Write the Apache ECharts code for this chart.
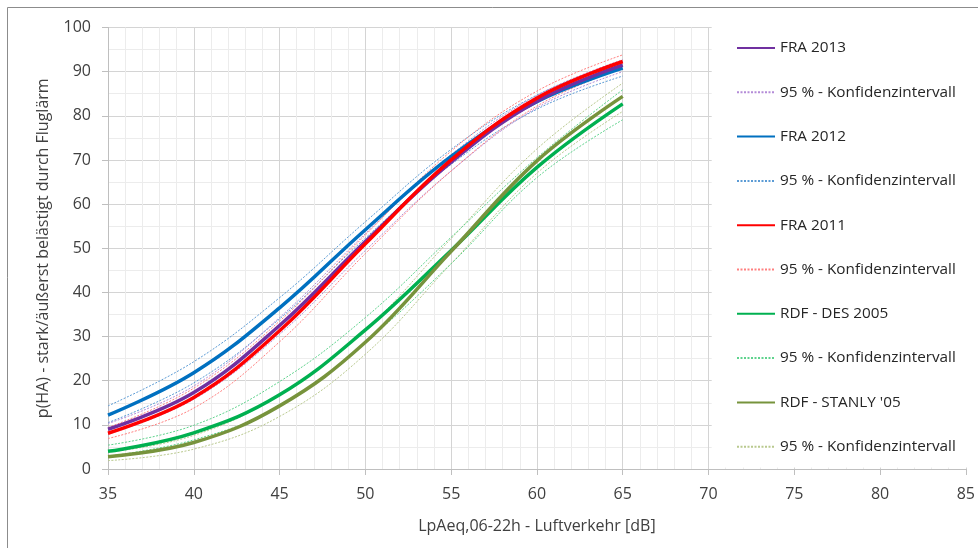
<!DOCTYPE html>
<html>
<head>
<meta charset="utf-8">
<script src="https://cdn.jsdelivr.net/npm/echarts@6/dist/echarts.min.js"></script>
<style>
html,body{margin:0;padding:0;background:#fff;}
#c{width:978px;height:548px;}
</style>
</head>
<body>
<div id="c"></div>
<script>
// x positions (dB)
var levels = [35, 40, 45, 50, 55, 60, 65];

// FRA 2013
var fra2013 = [9.0, 17.3, 32.5, 51.5, 69.5, 83.3, 91.5];
var fra2013Lo = [7.9, 15.8, 30.5, 49.5, 67.5, 81.8, 90.0];
var fra2013Hi = [10.3, 18.8, 34.3, 53.3, 71.2, 84.6, 92.7];
// FRA 2012
var fra2012 = [12.2, 21.8, 36.5, 54.2, 70.8, 83.2, 90.8];
var fra2012Lo = [10.5, 19.5, 34.0, 52.3, 69.0, 81.5, 89.0];
var fra2012Hi = [14.3, 24.3, 38.8, 56.0, 72.4, 84.7, 92.3];
// FRA 2011
var fra2011 = [8.1, 16.2, 31.3, 51.0, 70.0, 84.0, 92.3];
var fra2011Lo = [6.9, 13.8, 28.8, 48.8, 67.5, 82.2, 90.8];
var fra2011Hi = [9.4, 18.3, 33.5, 53.0, 72.0, 85.6, 93.8];
// RDF - DES 2005
var des2005 = [4.0, 8.2, 16.8, 31.5, 49.5, 68.3, 82.7];
var des2005Lo = [2.9, 6.6, 14.2, 28.8, 46.5, 66.0, 79.1];
var des2005Hi = [5.4, 9.9, 19.8, 34.3, 52.5, 70.5, 85.9];
// RDF - STANLY '05
var stanly = [2.8, 6.0, 14.3, 28.7, 49.3, 69.8, 84.4];
var stanlyLo = [1.9, 4.5, 11.9, 26.0, 46.5, 67.0, 81.0];
var stanlyHi = [3.8, 7.6, 16.8, 31.5, 52.2, 72.5, 87.4];

var ciLabel = '95 % - Konfidenzintervall';
var names = ['FRA 2013', ciLabel, 'FRA 2012', ciLabel + ' ', 'FRA 2011', ciLabel + '  ',
             'RDF - DES 2005', ciLabel + '   ', "RDF - STANLY '05", ciLabel + '    '];

function pts(arr) { return levels.map(function (x, i) { return [x, arr[i]]; }); }

function mainSeries(name, arr, color) {
  return { name: name, type: 'line', data: pts(arr), smooth: 0.4, symbol: 'none', symbolSize: 0,
    lineStyle: { color: color, width: 3.5 }, itemStyle: { color: color }, z: 3 };
}
function ciSeries(name, arr, color) {
  return { name: name, type: 'line', data: pts(arr), smooth: 0.4, symbol: 'none', symbolSize: 0,
    lineStyle: { color: color, width: 1, type: [2, 1.5] }, itemStyle: { color: color }, z: 2 };
}

var cPurple = '#7030A0', cPurpleCi = '#B48CD8';
var cBlue = '#0070C0', cBlueCi = '#5B9BD5';
var cRed = '#FF0000', cRedCi = '#FF8080';
var cGreen = '#00B050', cGreenCi = '#5FD38D';
var cOlive = '#77933C', cOliveCi = '#B9C98E';

var series = [
  ciSeries(names[9], stanlyLo, cOliveCi), ciSeries(names[9], stanlyHi, cOliveCi),
  ciSeries(names[7], des2005Lo, cGreenCi), ciSeries(names[7], des2005Hi, cGreenCi),
  ciSeries(names[3], fra2012Lo, cBlueCi), ciSeries(names[3], fra2012Hi, cBlueCi),
  ciSeries(names[1], fra2013Lo, cPurpleCi), ciSeries(names[1], fra2013Hi, cPurpleCi),
  ciSeries(names[5], fra2011Lo, cRedCi), ciSeries(names[5], fra2011Hi, cRedCi),
  mainSeries(names[6], des2005, cGreen),
  mainSeries(names[8], stanly, cOlive),
  mainSeries(names[2], fra2012, cBlue),
  mainSeries(names[0], fra2013, cPurple),
  mainSeries(names[4], fra2011, cRed)
];

var font = 'Open Sans';
var chart = echarts.init(document.getElementById('c'), null, { renderer: 'canvas' });
chart.setOption({
  animation: false,
  backgroundColor: '#fff',
  grid: { left: 108, right: 8, top: 27.5, bottom: 79, containLabel: false },
  xAxis: {
    type: 'value', min: 35, max: 85, interval: 5,
    name: 'LpAeq,06-22h - Luftverkehr [dB]', nameLocation: 'middle', nameGap: 49,
    nameTextStyle: { fontFamily: font, fontSize: 16, color: '#404040' },
    axisLine: { show: true, lineStyle: { color: '#bfbfbf', width: 1 } },
    axisTick: { show: true, length: 6, lineStyle: { color: '#bfbfbf' } },
    axisLabel: { fontFamily: font, fontSize: 16, color: '#404040', margin: 17 },
    splitLine: { show: true, lineStyle: { color: '#d4d4d4', width: 1 } },
    minorTick: { show: false, splitNumber: 5 },
    minorSplitLine: { show: true, lineStyle: { color: '#ececec', width: 1 } }
  },
  yAxis: {
    type: 'value', min: 0, max: 100, interval: 10,
    name: 'p(HA) - stark/äußerst belästigt durch Fluglärm', nameLocation: 'middle', nameGap: 57,
    nameTextStyle: { fontFamily: font, fontSize: 16, color: '#404040' },
    axisLine: { show: true, lineStyle: { color: '#bfbfbf', width: 1 } },
    axisTick: { show: true, length: 6, lineStyle: { color: '#bfbfbf' } },
    axisLabel: { fontFamily: font, fontSize: 16, color: '#404040', margin: 17 },
    splitLine: { show: true, lineStyle: { color: '#d4d4d4', width: 1 } },
    minorTick: { show: false, splitNumber: 2 },
    minorSplitLine: { show: true, lineStyle: { color: '#ececec', width: 1 } }
  },
  legend: {
    orient: 'vertical', left: 736, top: 40, padding: 0,
    itemWidth: 38, itemHeight: 14, itemGap: 28.3,
    itemStyle: { opacity: 0, borderWidth: 0 },
    data: names,
    textStyle: { fontFamily: font, fontSize: 15.3, color: '#262626', lineHeight: 16 }
  },
  graphic: [
    { type: 'rect', z: 1, silent: true, shape: { x: 711.7, y: 14, width: 270, height: 453.5 },
      style: { fill: '#ffffff' } },
    { type: 'line', z: 10, silent: true, shape: { x1: 7.5, y1: 7.5, x2: 978, y2: 7.5 },
      style: { stroke: '#8c8c8c', lineWidth: 1 } },
    { type: 'line', z: 10, silent: true, shape: { x1: 7.5, y1: 7.5, x2: 7.5, y2: 548 },
      style: { stroke: '#8c8c8c', lineWidth: 1 } }
  ],
  series: series
});
</script>
</body>
</html>
